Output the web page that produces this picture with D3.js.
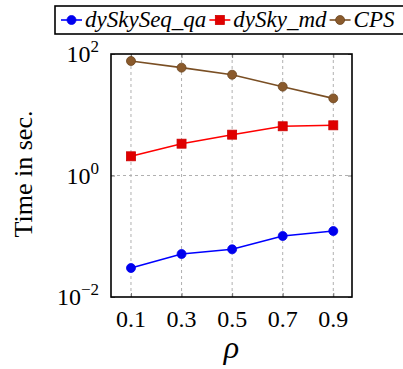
<!DOCTYPE html>
<html><head><meta charset="utf-8">
<script src="https://cdn.jsdelivr.net/npm/d3@7"></script>
<style>
html,body{margin:0;padding:0;background:#fff;}
svg{display:block;}
</style></head>
<body>
<svg id="c" width="403" height="369"></svg>
<script>
const rhoValues = [0.1, 0.3, 0.5, 0.7, 0.9];
const seriesNames = ["dySkySeq_qa", "dySky_md", "CPS"];
const qaTimes = [0.030, 0.051, 0.061, 0.101, 0.122];
const mdTimes = [2.07, 3.34, 4.7, 6.46, 6.7];
const cpsTimes = [76.7, 59.6, 45.6, 29.0, 18.6];
const xTickLabels = ["0.1", "0.3", "0.5", "0.7", "0.9"];
const yTickExps = [-2, 0, 2];

const FONT = '"Liberation Serif", "Times New Roman", Times, serif';
const svg = d3.select("#c").style("font-family", FONT);
const L = 111, R = 352, T = 54, B = 297;
const x = d3.scaleLinear().domain([0.021, 0.974]).range([L, R]);
const y = d3.scaleLog().domain([1e-2, 1e2]).range([B, T]);

const styles = [
  {color:"#0000ff", fill:"#0000ee", stroke:"#0000ee", marker:"circle", data:qaTimes},
  {color:"#ff0000", fill:"#e00000", stroke:"#cc0000", marker:"square", data:mdTimes},
  {color:"#7a4f24", fill:"#8a5a2c", stroke:"#6b4520", marker:"circle", data:cpsTimes}
];

function txt(sel) { return sel.append("text").style("font-family", FONT).attr("fill", "#000"); }

// grid
const g = svg.append("g");
g.selectAll(".gx").data(rhoValues).enter().append("line")
  .attr("x1", d=>x(d)).attr("x2", d=>x(d)).attr("y1", T).attr("y2", B)
  .attr("stroke", "#b0b0b0").attr("stroke-width", 1).attr("stroke-dasharray", "3,3");
g.selectAll(".gy").data([1]).enter().append("line")
  .attr("x1", L).attr("x2", R).attr("y1", d=>y(d)).attr("y2", d=>y(d))
  .attr("stroke", "#b0b0b0").attr("stroke-width", 1).attr("stroke-dasharray", "3,3");

// axes ticks (inside)
const yt = yTickExps.map(e=>Math.pow(10,e));
const xAxisB = d3.axisBottom(x).tickValues(rhoValues).tickSize(-4).tickFormat("");
const xAxisT = d3.axisTop(x).tickValues(rhoValues).tickSize(-4).tickFormat("");
const yAxisL = d3.axisLeft(y).tickValues(yt).tickSize(-4).tickFormat("");
const yAxisR = d3.axisRight(y).tickValues(yt).tickSize(-4).tickFormat("");
[[xAxisB,`translate(0,${B})`],[xAxisT,`translate(0,${T})`],[yAxisL,`translate(${L},0)`],[yAxisR,`translate(${R},0)`]].forEach(([ax,tr])=>{
  const a = svg.append("g").attr("transform", tr).call(ax);
  a.select(".domain").remove();
  a.selectAll("line").attr("stroke", "#555").attr("stroke-width", 0.8);
});

// tick labels
rhoValues.forEach((d,i)=>{
  txt(svg).attr("x", x(d)).attr("y", 327).attr("text-anchor", "middle")
    .attr("font-size", 24).text(xTickLabels[i]);
});
yTickExps.forEach(e=>{
  const t = txt(svg).attr("x", 99).attr("y", y(Math.pow(10,e)) + 8)
    .attr("text-anchor", "end").attr("font-size", 24);
  t.append("tspan").text("10");
  t.append("tspan").attr("dy", -10).attr("font-size", 17).text(e < 0 ? "\u2212" + (-e) : String(e));
});

// lines & markers
const line = d3.line().x((d,i)=>x(rhoValues[i])).y(d=>y(d));
function drawMarker(sel, s, cx, cy) {
  if (s.marker === "circle") {
    sel.append("circle").attr("cx", cx).attr("cy", cy).attr("r", 4.5)
      .attr("fill", s.fill).attr("stroke", s.stroke).attr("stroke-width", 0.8);
  } else {
    sel.append("rect").attr("x", cx-4.5).attr("y", cy-4.5).attr("width", 9).attr("height", 9)
      .attr("fill", s.fill).attr("stroke", s.stroke).attr("stroke-width", 0.8);
  }
}
styles.forEach(s=>{
  svg.append("path").datum(s.data).attr("d", line).attr("fill", "none")
    .attr("stroke", s.color).attr("stroke-width", 1.6);
  const mg = svg.append("g");
  s.data.forEach((v,i)=>drawMarker(mg, s, x(rhoValues[i]), y(v)));
});

// frame
svg.append("rect").attr("x", L).attr("y", T).attr("width", R-L).attr("height", B-T)
  .attr("fill", "none").attr("stroke", "#000").attr("stroke-width", 1.6);

// axis labels
txt(svg).attr("transform", "translate(32,174) rotate(-90)")
  .attr("text-anchor", "middle").attr("font-size", 26).text("Time in sec.");
txt(svg).attr("x", (L+R)/2).attr("y", 358).attr("text-anchor", "middle")
  .attr("font-size", 32).attr("font-style", "italic").text("\u03c1");

// legend
const lg = svg.append("g");
lg.append("rect").attr("x", 55).attr("y", 6).attr("width", 360).attr("height", 28)
  .attr("fill", "#fff").attr("stroke", "#000").attr("stroke-width", 1.6);
let cx = 61;
styles.forEach((s,i)=>{
  lg.append("line").attr("x1", cx).attr("x2", cx+21).attr("y1", 20).attr("y2", 20)
    .attr("stroke", s.color).attr("stroke-width", 1.6);
  drawMarker(lg, s, cx+10.5, 20);
  const t = txt(lg).attr("x", cx+24).attr("y", 27).attr("font-size", 23)
    .attr("font-style", "italic").text(seriesNames[i]);
  cx = cx + 24 + t.node().getComputedTextLength() + 3;
});
</script>
</body></html>
